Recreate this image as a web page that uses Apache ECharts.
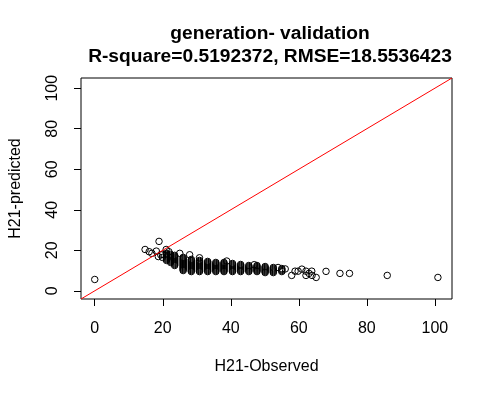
<!DOCTYPE html>
<html>
<head>
<meta charset="utf-8">
<script src="https://cdn.jsdelivr.net/npm/echarts@6/dist/echarts.min.js"></script>
<style>
  html, body { margin: 0; padding: 0; background: #fff; }
  #chart { width: 493px; height: 398px; }
</style>
</head>
<body>
<div id="chart"></div>
<script>
// Observed vs predicted H21.
// Dense part: observed values come in columns, each with a stack of predictions
var bandObserved = [21.1, 22.3, 23.5, 26.0, 28.4, 30.8, 33.2, 35.6, 38.0, 40.5, 42.9, 45.3, 47.7, 50.1, 52.5, 55.0];
var bandPredicted = [
    [15, 15.5, 16, 16.5, 17, 17.5, 18, 18.5],
    [14, 14.5, 15, 15.5, 16, 16.5, 17, 17.5, 18],
    [12.5, 13, 13.5, 14, 14.5, 15, 15.5, 16, 16.5, 17, 17.5],
    [10, 10.5, 11, 11.5, 12, 12.5, 13, 13.5, 14, 14.5, 15, 15.5, 16, 16.5],
    [9.5, 10, 10.5, 11, 11.5, 12, 12.5, 13, 13.5, 14, 14.5, 15, 15.5],
    [9.5, 10, 10.5, 11, 11.5, 12, 12.5, 13, 13.5, 14, 14.5, 15],
    [9.5, 10, 10.5, 11, 11.5, 12, 12.5, 13, 13.5, 14, 14.5],
    [9.5, 10, 10.5, 11, 11.5, 12, 12.5, 13, 13.5, 14],
    [9.5, 10, 10.5, 11, 11.5, 12, 12.5, 13, 13.5, 14],
    [9.5, 10, 10.5, 11, 11.5, 12, 12.5, 13, 13.5],
    [9.5, 10, 10.5, 11, 11.5, 12, 12.5, 13],
    [9.5, 10, 10.5, 11, 11.5, 12, 12.5],
    [9.5, 10, 10.5, 11, 11.5, 12, 12.5],
    [9, 9.5, 10, 10.5, 11, 11.5, 12],
    [9, 9.5, 10, 10.5, 11, 11.5],
    [9.5, 10, 10.5, 11]
];
// Scattered points around and outside the band
var looseObserved = [
    0, 14.8, 16.0, 16.8, 18.1, 18.9, 18.7, 19.4, 19.9, 19.9, 21.0, 21.8,
    25.0, 27.9, 30.8, 38.8, 46.9, 53.9,
    56.0, 57.9, 58.9, 59.8, 60.9, 62.1, 62.1, 63.0, 63.8, 63.9,
    65.1, 68.0, 72.1, 74.9, 86.0, 100.9
];
var loosePredicted = [
    5.6, 20.4, 19.3, 18.5, 19.6, 24.4, 16.9, 17.8, 16.5, 18.0, 20.4, 19.3,
    18.5, 17.8, 16.3, 14.7, 12.9, 11.5,
    10.8, 7.6, 9.7, 9.7, 10.7, 9.7, 7.6, 8.6, 9.7, 7.6,
    6.6, 9.6, 8.6, 8.6, 7.6, 6.6
];
var tickValues = [0, 20, 40, 60, 80, 100];
// R extends the data range by 4% on each side
var axisMin = -4.04;
var axisMax = 105.04;

var points = [];
bandObserved.forEach(function (x, i) {
    bandPredicted[i].forEach(function (y) { points.push([x, y]); });
});
looseObserved.forEach(function (x, i) { points.push([x, loosePredicted[i]]); });

var font = '"Liberation Sans", Arial, sans-serif';

var chart = echarts.init(document.getElementById('chart'), null, { renderer: 'canvas' });
chart.setOption({
    animation: false,
    backgroundColor: '#ffffff',
    title: {
        text: 'generation- validation\nR-square=0.5192372, RMSE=18.5536423',
        left: 265, top: 18, textAlign: 'center',
        textStyle: { fontFamily: font, fontSize: 19.2, fontWeight: 'bold', color: '#000', lineHeight: 22.3 }
    },
    grid: {
        left: 78, top: 78, right: 41, bottom: 99,
        show: true, borderColor: '#000', borderWidth: 1, backgroundColor: 'transparent'
    },
    xAxis: {
        type: 'value', min: axisMin, max: axisMax,
        name: 'H21-Observed', nameLocation: 'middle', nameGap: 60,
        nameTextStyle: { fontFamily: font, fontSize: 16, color: '#000' },
        axisLine: { show: false, onZero: false },
        splitLine: { show: false },
        axisTick: { show: true, customValues: tickValues, length: 7, lineStyle: { color: '#000' } },
        axisLabel: { customValues: tickValues, margin: 22, fontFamily: font, fontSize: 16, color: '#000' }
    },
    yAxis: {
        type: 'value', min: axisMin, max: axisMax,
        name: 'H21-predicted', nameLocation: 'middle', nameGap: 57, nameRotate: 90,
        nameTextStyle: { fontFamily: font, fontSize: 16, color: '#000' },
        axisLine: { show: false, onZero: false },
        splitLine: { show: false },
        axisTick: { show: true, customValues: tickValues, length: 7, lineStyle: { color: '#000' } },
        axisLabel: { customValues: tickValues, rotate: 90, margin: 20, fontFamily: font, fontSize: 16, color: '#000' }
    },
    series: [
        {
            type: 'scatter',
            data: points,
            symbol: 'circle',
            symbolSize: 6.5,
            itemStyle: { color: 'rgba(0,0,0,0)', borderColor: '#000', borderWidth: 1, opacity: 1 },
            silent: true
        },
        {
            // y = x reference line
            type: 'line',
            data: [[axisMin, axisMin], [axisMax, axisMax]],
            symbol: 'none',
            lineStyle: { color: '#ff0000', width: 1 },
            silent: true
        }
    ]
});
</script>
</body>
</html>
